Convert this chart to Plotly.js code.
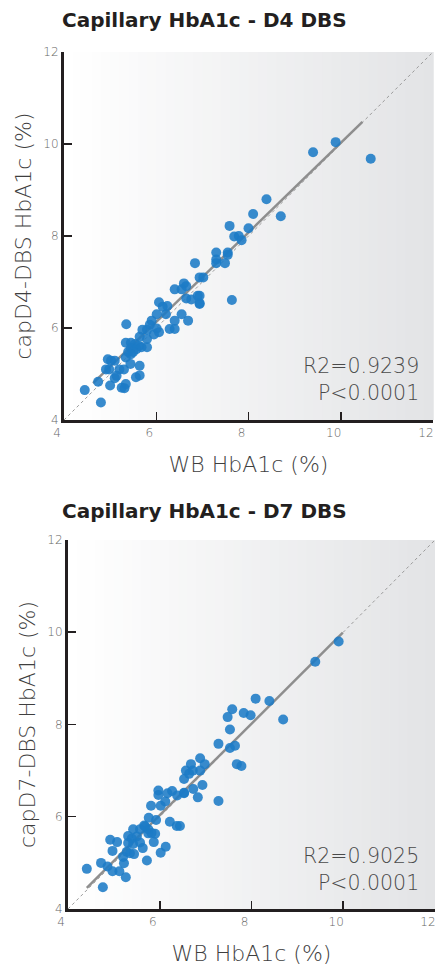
<!DOCTYPE html>
<html>
<head>
<meta charset="utf-8">
<script src="https://cdn.plot.ly/plotly-3.0.1.min.js"></script>
<style>html,body{margin:0;padding:0;background:#fff;}#chart{width:435px;height:970px;}</style>
</head>
<body>
<div id="chart"></div>
<script>
// ---- Data: Capillary HbA1c D4 DBS vs WB HbA1c ----
const d4WB = [9.40,9.89,10.65,8.39,8.10,8.70,7.59,8.00,7.69,7.79,7.85,7.30,7.30,7.30,7.55,7.55,7.49,7.02,6.94,7.64,6.94,6.94,6.84,
  6.60,6.65,6.40,6.55,6.65,6.76,6.90,6.94,6.06,6.14,6.24,6.01,6.21,6.55,6.40,6.69,5.90,5.86,5.35,6.29,6.40,5.70,5.80,6.01,6.06,5.95,
  5.64,5.80,5.34,5.45,5.54,5.63,5.45,5.57,5.68,5.80,5.39,5.50,5.34,5.45,4.95,5.02,5.10,4.91,4.98,5.20,5.30,5.44,5.64,5.14,5.10,5.56,
  5.64,4.74,5.00,5.25,5.34,5.31,4.45,4.80];
const d4Cap = [9.82,10.04,9.68,8.80,8.48,8.43,8.22,8.17,7.99,8.00,7.91,7.64,7.49,7.41,7.64,7.59,7.41,7.10,7.10,6.61,6.70,6.52,7.41,
  6.97,6.91,6.84,6.84,6.64,6.62,6.70,6.54,6.56,6.46,6.48,6.30,6.30,6.30,6.16,6.16,6.16,6.07,6.08,5.98,5.98,5.96,5.96,5.99,5.91,5.86,
  5.81,5.76,5.68,5.68,5.65,5.61,5.56,5.54,5.58,5.58,5.48,5.48,5.36,5.43,5.32,5.29,5.29,5.10,5.10,5.10,5.10,5.22,5.18,4.96,4.91,4.93,
  4.97,4.83,4.75,4.70,4.78,4.69,4.65,4.38];
const d4FitX = [4.63, 10.47];
const d4FitY = [4.80, 10.48];

// ---- Data: Capillary HbA1c D7 DBS vs WB HbA1c ----
const d7WB = [9.90,9.39,8.09,8.39,7.58,7.48,7.83,7.98,8.69,7.53,7.28,7.53,7.64,7.68,7.78,6.88,6.68,6.98,6.57,6.72,6.88,6.64,6.53,
  6.53,6.73,6.93,6.83,7.28,6.44,5.97,5.97,6.17,6.27,6.38,6.53,5.81,6.02,6.12,5.76,5.92,6.22,6.37,5.66,5.42,5.57,5.75,5.68,5.75,5.82,
  5.90,5.31,5.39,5.50,4.92,5.07,5.31,5.42,5.57,5.63,5.87,6.13,6.02,4.97,5.28,5.35,5.44,5.20,4.72,4.86,4.97,5.12,5.22,5.26,5.72,4.41,4.76];
const d7Cap = [9.80,9.36,8.56,8.51,8.33,8.16,8.25,8.20,8.11,7.89,7.58,7.49,7.54,7.14,7.10,7.27,7.14,7.14,7.00,7.00,7.00,6.93,6.82,
  6.52,6.60,6.69,6.42,6.34,5.80,6.57,6.47,6.51,6.56,6.46,6.51,6.24,6.24,6.33,5.98,5.93,5.89,5.80,5.81,5.73,5.73,5.73,5.79,5.64,5.65,
  5.63,5.58,5.53,5.57,5.50,5.45,5.43,5.41,5.44,5.32,5.45,5.35,5.22,5.26,5.24,5.21,5.19,5.13,5.00,4.92,4.82,4.82,4.99,4.69,5.05,4.87,4.47];
const d7FitX = [4.41, 9.99];
const d7FitY = [4.46, 9.99];

const identity = [4, 12];
const tickVals = [4, 6, 8, 10, 12];
const statsD4 = ['R2=0.9239', 'P<0.0001'];
const statsD7 = ['R2=0.9025', 'P<0.0001'];

// ---- Styles ----
const ptColor = '#1c7bc6';
const dark = '#231f20';
const FONT = '"DejaVu Sans", Verdana, sans-serif';

function scatter(x, y, xa, ya) {
  return {x: x, y: y, xaxis: xa, yaxis: ya, type: 'scatter', mode: 'markers',
    marker: {color: ptColor, size: 10, opacity: 0.88, line: {width: 0}}, hoverinfo: 'x+y', showlegend: false};
}
function line(x, y, xa, ya, style) {
  return Object.assign({x: x, y: y, xaxis: xa, yaxis: ya, type: 'scatter', mode: 'lines', hoverinfo: 'skip', showlegend: false}, style);
}

const data = [
  line(identity, identity, 'x', 'y', {line: {color: '#9a9a9a', width: 1, dash: 'dot'}}),
  line(d4FitX, d4FitY, 'x', 'y', {line: {color: '#8e8e8e', width: 2.5}}),
  scatter(d4WB, d4Cap, 'x', 'y'),
  line(identity, identity, 'x2', 'y2', {line: {color: '#9a9a9a', width: 1, dash: 'dot'}}),
  line(d7FitX, d7FitY, 'x2', 'y2', {line: {color: '#8e8e8e', width: 2.5}}),
  scatter(d7WB, d7Cap, 'x2', 'y2')
];

function axis(domain, anchor, titleText, standoff, shift) {
  return {
    domain: domain, anchor: anchor, range: [4, 12], tickvals: tickVals, ticktext: tickVals.map(String),
    showgrid: false, zeroline: false, showline: true, linecolor: dark, linewidth: 3,
    ticks: 'inside', ticklen: 8, tickwidth: 1.5, tickcolor: dark, ticklabeloverflow: 'allow', ticklabelshift: shift,
    tickfont: {family: FONT, size: 12, color: '#666666', weight: 300},
    title: {text: titleText, font: {family: FONT, size: 22, color: '#3f3f3f', weight: 300}, standoff: standoff},
    fixedrange: true
  };
}

// gradient background strips
const shapes = [];
const N = 40;
function grad(xref, yref) {
  for (let i = 0; i < N; i++) {
    const t = i / (N - 1);
    const c0 = [255, 255, 255], c1 = [227, 228, 230];
    const c = c0.map((v, k) => Math.round(v + (c1[k] - v) * t));
    shapes.push({type: 'rect', xref: xref + ' domain', yref: yref + ' domain', x0: i / N, x1: (i + 1) / N + 0.002, y0: 0, y1: 1,
      fillcolor: 'rgb(' + c.join(',') + ')', line: {width: 0}, layer: 'below'});
  }
}
grad('x', 'y');
grad('x2', 'y2');

function statAnn(xref, yref, texts, xs, ys) {
  return {text: texts.map(t => t.replace(/</g, '&lt;')).join('<br>'), xref: xref + ' domain', yref: yref + ' domain',
    x: xs, y: ys, xanchor: 'right', yanchor: 'middle', align: 'right', showarrow: false,
    font: {family: FONT, size: 20.5, color: '#4a4a4a', weight: 300}};
}

const annotations = [
  {text: 'Capillary HbA1c - D4 DBS', xref: 'paper', yref: 'paper', x: -0.012, y: 1.0373, xanchor: 'left', yanchor: 'middle',
    showarrow: false, font: {family: FONT, size: 20, color: dark, weight: 700}},
  {text: 'Capillary HbA1c - D7 DBS', xref: 'paper', yref: 'paper', x: -0.012, y: 0.4644, xanchor: 'left', yanchor: 'middle',
    showarrow: false, font: {family: FONT, size: 20, color: dark, weight: 700}},
  statAnn('x', 'y', statsD4, 0.967, 0.110),
  statAnn('x2', 'y2', statsD7, 0.962, 0.107)
];

const layout = {
  width: 435, height: 970,
  margin: {l: 64, r: 0, t: 52, b: 61},
  paper_bgcolor: '#ffffff', plot_bgcolor: 'rgba(0,0,0,0)',
  font: {family: FONT},
  xaxis: axis([0, 0.9946], 'y', 'WB HbA1c (%)', 18, -7),
  yaxis: axis([0.5706, 1], 'x', 'capD4-DBS HbA1c (%)', 6, 0),
  xaxis2: axis([0.0108, 1], 'y2', 'WB HbA1c (%)', 18, -7),
  yaxis2: axis([0, 0.4306], 'x2', 'capD7-DBS HbA1c (%)', 6, 0),
  shapes: shapes,
  annotations: annotations,
  showlegend: false
};

Plotly.newPlot('chart', data, layout, {displayModeBar: false, staticPlot: true});
</script>
</body>
</html>
